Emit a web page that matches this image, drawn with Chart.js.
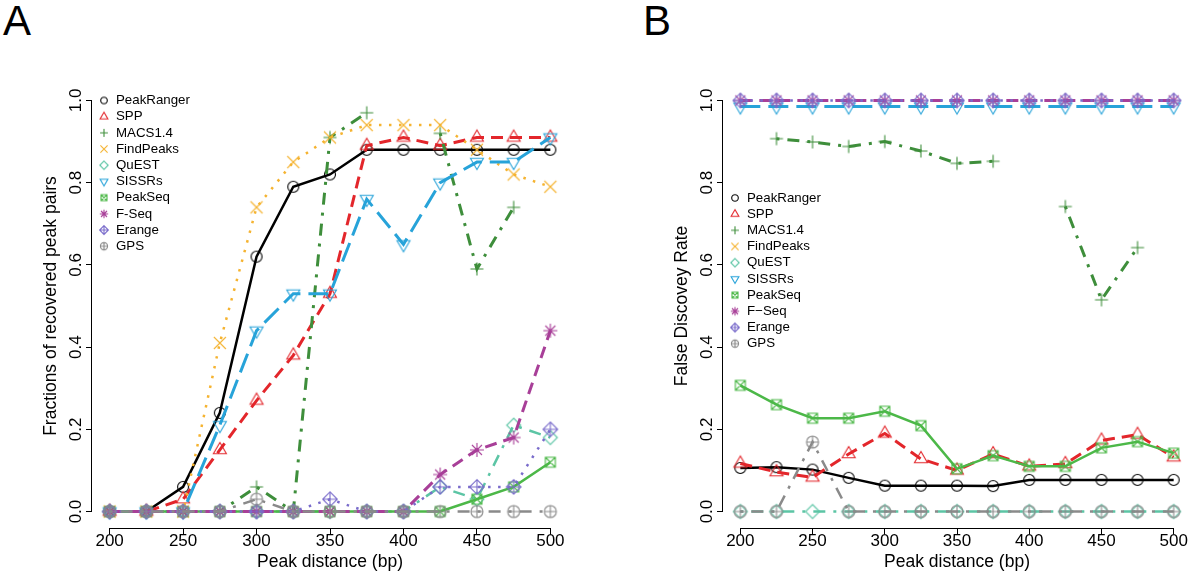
<!DOCTYPE html>
<html>
<head>
<meta charset="utf-8">
<script src="https://cdn.jsdelivr.net/npm/chart.js@4.4.1/dist/chart.umd.min.js"></script>
<style>
  body { margin: 0; background: #fff; width: 1200px; height: 575px; position: relative; overflow: hidden;
         font-family: "Liberation Sans", Arial, sans-serif; }
  .panel { position: absolute; top: 0; height: 575px; }
  #pa { left: 0; width: 600px; }
  #pb { left: 631px; width: 569px; }
  .lab { position: absolute; top: 0; font-size: 42px; line-height: 1; color: #000; }
</style>
</head>
<body>
<div class="lab" style="left:3px">A</div>
<div class="lab" style="left:643px">B</div>
<div class="panel" id="pa"><canvas id="chartA"></canvas></div>
<div class="panel" id="pb"><canvas id="chartB"></canvas></div>
<script>
// peak distance (bp)
const distances = [200, 225, 250, 275, 300, 325, 350, 375, 400, 425, 450, 475, 500];
const xTicks = [200, 250, 300, 350, 400, 450, 500];
const yTicks = [0, 0.2, 0.4, 0.6, 0.8, 1.0];

const methods = ['PeakRanger', 'SPP', 'MACS1.4', 'FindPeaks', 'QuEST', 'SISSRs', 'PeakSeq', 'F-Seq', 'Erange', 'GPS'];
const methodsB = ['PeakRanger', 'SPP', 'MACS1.4', 'FindPeaks', 'QuEST', 'SISSRs', 'PeakSeq', 'F\u2212Seq', 'Erange', 'GPS'];

// A: fractions of recovered peak pairs
const recPeakRanger = [0, 0, 0.06, 0.24, 0.62, 0.79, 0.82, 0.88, 0.88, 0.88, 0.88, 0.88, 0.88];
const recSPP        = [0, 0, 0.03, 0.15, 0.27, 0.38, 0.53, 0.89, 0.91, 0.89, 0.91, 0.91, 0.91];
const recMACS       = [0, 0, 0, 0, 0.06, 0, 0.91, 0.97, null, 0.92, 0.59, 0.74, null];
const recFindPeaks  = [0, 0, 0, 0.41, 0.74, 0.85, 0.91, 0.94, 0.94, 0.94, 0.88, 0.82, 0.79];
const recQuEST      = [0, 0, 0, 0, 0, 0, 0, 0, 0, 0.06, 0.03, 0.21, 0.18];
const recSISSRs     = [0, 0, 0, 0.21, 0.44, 0.53, 0.53, 0.76, 0.65, 0.80, 0.85, 0.85, 0.91];
const recPeakSeq    = [0, 0, 0, 0, 0, 0, 0, 0, 0, 0, 0.03, 0.06, 0.12];
const recFSeq       = [0, 0, 0, 0, 0, 0, 0, 0, 0, 0.09, 0.15, 0.18, 0.44];
const recErange     = [0, 0, 0, 0, 0, 0, 0.03, 0, 0, 0.06, 0.06, 0.06, 0.20];
const recGPS        = [0, 0, 0, 0, 0.03, 0, 0, 0, 0, 0, 0, 0, 0];

// B: false discovery rate
const fdrPeakRanger = [0.106, 0.108, 0.102, 0.082, 0.063, 0.063, 0.063, 0.062, 0.077, 0.077, 0.077, 0.077, 0.077];
const fdrSPP        = [0.117, 0.096, 0.083, 0.14, 0.19, 0.128, 0.10, 0.14, 0.11, 0.116, 0.173, 0.187, 0.132];
const fdrMACS       = [null, 0.907, 0.899, 0.888, 0.90, 0.877, 0.847, 0.852, null, 0.742, 0.515, 0.642, null];
const fdrFindPeaks  = [null, null, null, null, null, null, null, null, null, null, null, null, null];
const fdrQuEST      = [0, 0, 0, 0, 0, 0, 0, 0, 0, 0, 0, 0, 0];
const fdrSISSRs     = [0.985, 0.985, 0.985, 0.985, 0.985, 0.985, 0.985, 0.985, 0.985, 0.985, 0.985, 0.985, 0.985];
const fdrPeakSeq    = [0.307, 0.26, 0.227, 0.227, 0.244, 0.209, 0.104, 0.136, 0.11, 0.11, 0.155, 0.17, 0.142];
const fdrFSeq       = [1, 1, 1, 1, 1, 1, 1, 1, 1, 1, 1, 1, 1];
const fdrErange     = [1, 1, 1, 1, 1, 1, 1, 1, 1, 1, 1, 1, 1];
const fdrGPS        = [0, 0, 0.169, 0, 0, 0, 0, 0, 0, 0, 0, 0, 0];

const recValues = [recPeakRanger, recSPP, recMACS, recFindPeaks, recQuEST, recSISSRs, recPeakSeq, recFSeq, recErange, recGPS];
const fdrValues = [fdrPeakRanger, fdrSPP, fdrMACS, fdrFindPeaks, fdrQuEST, fdrSISSRs, fdrPeakSeq, fdrFSeq, fdrErange, fdrGPS];

// styles (R-like pch / lty)
const colors = ['#000000', '#E3262B', '#3E8E3B', '#F5B330', '#5CC5A5', '#27A3D9', '#4CB848', '#A83F98', '#7A6CCB', '#8A8A8A'];
const shapes = ['circle', 'triUp', 'plus', 'cross', 'diamond', 'triDown', 'boxX', 'star', 'diamondPlus', 'circlePlus'];
const widths = [2.5, 3, 3, 2.5, 2.5, 3, 2.5, 3, 2.5, 2.5];
const dashes = [[], [12, 7], [3, 8, 12, 8], [2.5, 7.5], [3, 8, 12, 8], [20, 8], [], [12, 7], [2.5, 7.5], [3, 8, 12, 8]];

Chart.defaults.font.family = '"Liberation Sans", Arial, Helvetica, sans-serif';

function marker(shape, color, s) {
  const size = Math.ceil(16 * s + 4);
  const c = document.createElement('canvas');
  c.width = c.height = size;
  const g = c.getContext('2d');
  g.strokeStyle = color;
  g.lineWidth = 1.1;
  g.translate(size / 2, size / 2);
  const line = (x1, y1, x2, y2) => { g.moveTo(x1, y1); g.lineTo(x2, y2); };
  g.beginPath();
  if (shape === 'circle') {
    g.arc(0, 0, 5.5 * s, 0, Math.PI * 2);
  } else if (shape === 'triUp' || shape === 'triDown') {
    const R = 7.5 * s, d = shape === 'triUp' ? 1 : -1;
    g.moveTo(0, -R * d); g.lineTo(R * 0.866, R / 2 * d); g.lineTo(-R * 0.866, R / 2 * d); g.closePath();
  } else if (shape === 'plus') {
    const a = 6.5 * s; line(-a, 0, a, 0); line(0, -a, 0, a);
  } else if (shape === 'cross') {
    const a = 6 * s; line(-a, -a, a, a); line(-a, a, a, -a);
  } else if (shape === 'diamond') {
    const a = 7 * s; g.moveTo(0, -a); g.lineTo(a, 0); g.lineTo(0, a); g.lineTo(-a, 0); g.closePath();
  } else if (shape === 'boxX') {
    const a = 5 * s; g.rect(-a, -a, 2 * a, 2 * a); line(-a, -a, a, a); line(-a, a, a, -a);
  } else if (shape === 'star') {
    const a = 7 * s, b = 5 * s; line(-a, 0, a, 0); line(0, -a, 0, a); line(-b, -b, b, b); line(-b, b, b, -b);
  } else if (shape === 'diamondPlus') {
    const a = 7.3 * s; g.moveTo(0, -a); g.lineTo(a, 0); g.lineTo(0, a); g.lineTo(-a, 0); g.closePath();
    line(-a, 0, a, 0); line(0, -a, 0, a);
  } else if (shape === 'circlePlus') {
    const a = 6 * s; g.arc(0, 0, a, 0, Math.PI * 2); g.moveTo(-a, 0); g.lineTo(a, 0); line(0, -a, 0, a);
  }
  g.stroke();
  return c;
}

const pointMarks = shapes.map((sh, i) => marker(sh, colors[i], 1));
const legendMarks = shapes.map((sh, i) => marker(sh, colors[i], 0.6));

// R-style axes: lines only span first..last tick
const rAxes = {
  id: 'rAxes',
  afterDraw(chart) {
    const {ctx, chartArea, scales} = chart;
    ctx.save();
    ctx.strokeStyle = '#000';
    ctx.lineWidth = 1;
    ctx.beginPath();
    const yb = Math.round(chartArea.bottom) + 0.5;
    ctx.moveTo(scales.x.getPixelForValue(xTicks[0]), yb);
    ctx.lineTo(scales.x.getPixelForValue(xTicks[xTicks.length - 1]), yb);
    const xl = Math.round(chartArea.left) - 0.5;
    ctx.moveTo(xl, scales.y.getPixelForValue(yTicks[0]));
    ctx.lineTo(xl, scales.y.getPixelForValue(yTicks[yTicks.length - 1]));
    ctx.stroke();
    ctx.restore();
  }
};

// legend drawn inside the plot, like R's bty="n"
const rLegend = {
  id: 'rLegend',
  afterDatasetsDraw(chart, args, opts) {
    const {ctx, chartArea, scales} = chart;
    const y0 = scales.y.getPixelForValue(opts.top);
    ctx.save();
    ctx.font = '13.3px "Liberation Sans", Arial, sans-serif';
    ctx.fillStyle = '#000';
    ctx.textBaseline = 'middle';
    opts.labels.forEach((t, i) => {
      const y = y0 + i * 16.2;
      const img = legendMarks[i];
      ctx.drawImage(img, chartArea.left + 12 - img.width / 2, y - img.height / 2);
      ctx.fillText(t, chartArea.left + 24, y);
    });
    ctx.restore();
  }
};

function makeChart(id, values, labels, yTitle, legendTop, padRight) {
  const datasets = values.map((vals, i) => ({
    label: labels[i],
    data: distances.map((d, k) => ({x: d, y: vals[k]})),
    borderColor: colors[i],
    borderWidth: widths[i],
    borderDash: dashes[i],
    pointStyle: pointMarks[i],
    pointRadius: 6,
    tension: 0,
    fill: false,
    spanGaps: false,
    order: values.length - i
  }));
  const axisGrid = {display: true, drawOnChartArea: false, drawTicks: true, tickLength: 6, color: '#000', lineWidth: 1};
  return new Chart(document.getElementById(id), {
    type: 'line',
    data: {datasets},
    plugins: [rAxes, rLegend],
    options: {
      responsive: true,
      maintainAspectRatio: false,
      animation: false,
      events: [],
      layout: {padding: {left: 0, top: 84, right: padRight, bottom: 0}},
      plugins: {
        legend: {display: false},
        tooltip: {enabled: false},
        rLegend: {labels, top: legendTop}
      },
      scales: {
        x: {
          type: 'linear', min: 188, max: 512,
          afterBuildTicks: s => { s.ticks = xTicks.map(v => ({value: v})); },
          afterFit: s => { s.height = 47; },
          grid: axisGrid,
          border: {display: false},
          ticks: {color: '#000', font: {size: 17, lineHeight: 1}, padding: -1, maxRotation: 0, autoSkip: false,
                  callback: v => String(v)},
          title: {display: true, text: 'Peak distance (bp)', color: '#000', font: {size: 17.5}, padding: {top: 0, bottom: 2}}
        },
        y: {
          type: 'linear', min: -0.04, max: 1.04,
          afterBuildTicks: s => { s.ticks = yTicks.map(v => ({value: v})); },
          afterFit: s => { s.width = 92; },
          grid: axisGrid,
          border: {display: false},
          ticks: {color: '#000', font: {size: 17}, minRotation: 90, maxRotation: 90, crossAlign: 'center',
                  padding: -2, autoSkip: false, callback: v => v.toFixed(1)},
          title: {display: true, text: yTitle, color: '#000', font: {size: 17.5}, padding: {top: 41, bottom: 0}}
        }
      }
    }
  });
}

makeChart('chartA', recValues, methods, 'Fractions of recovered peak pairs', 1.0, 32);
makeChart('chartB', fdrValues, methodsB, 'False Discovey Rate', 0.763, 1);
</script>
</body>
</html>
